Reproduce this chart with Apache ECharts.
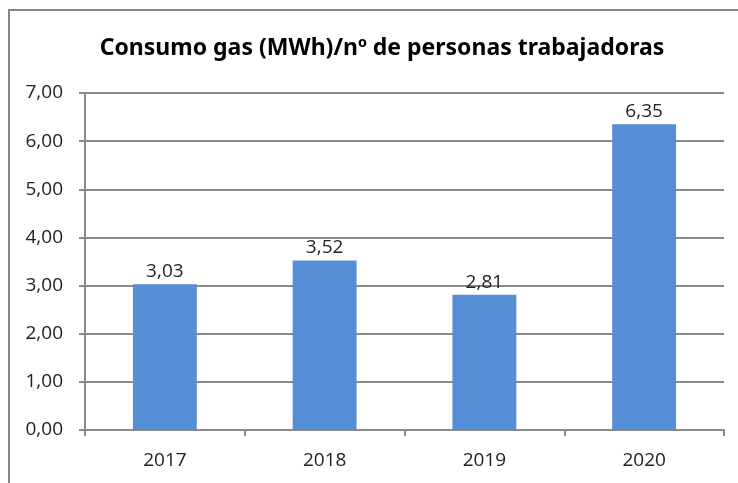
<!DOCTYPE html>
<html>
<head>
<meta charset="utf-8">
<script src="https://cdn.jsdelivr.net/npm/echarts@6/dist/echarts.min.js"></script>
<style>
html, body { margin: 0; padding: 0; background: #fff; }
#container { width: 738px; height: 483px; }
</style>
</head>
<body>
<div id="container"></div>
<script>
var years = ['2017', '2018', '2019', '2020'];
var consumo = [3.03, 3.52, 2.81, 6.35];
var yTicks = [0, 1, 2, 3, 4, 5, 6, 7];

function coma(v) {
    return v.toFixed(2).replace('.', ',');
}

var myChart = echarts.init(document.getElementById("container"));
myChart.setOption({
    animation: false,
    title: {
        text: 'Consumo gas (MWh)/nº de personas trabajadoras',
        left: 377,
        top: 32,
        textAlign: 'center',
        textStyle: {
            fontFamily: 'Noto Sans',
            fontWeight: 'bold',
            fontSize: 23,
            color: '#000'
        }
    },
    graphic: [{
            type: 'polyline',
            shape: { points: [[9, 483], [9, 10], [738, 10]] },
            style: { stroke: '#878787', lineWidth: 2, fill: null }
        }],
    grid: {
        left: 85,
        right: 14,
        top: 93,
        bottom: 53
    },
    xAxis: {
        type: 'category',
        data: years,
        axisLine: { lineStyle: { color: '#8a8a8a', width: 2 } },
        axisTick: { show: true, length: 6, lineStyle: { color: '#8a8a8a', width: 2 } },
        axisLabel: {
            margin: 21,
            fontFamily: 'Open Sans',
            fontSize: 19,
            color: '#222'
        }
    },
    yAxis: {
        type: 'value',
        min: yTicks[0],
        max: yTicks[yTicks.length - 1],
        interval: 1,
        axisLine: { show: true, lineStyle: { color: '#8a8a8a', width: 2 } },
        axisTick: { show: true, length: 6, lineStyle: { color: '#8a8a8a', width: 2 } },
        splitLine: { lineStyle: { color: '#8a8a8a', width: 2 } },
        axisLabel: {
            margin: 22,
            fontFamily: 'Open Sans',
            fontSize: 19,
            color: '#222',
            formatter: function (v) { return coma(v); }
        }
    },
    series: [{
            type: 'bar',
            data: consumo,
            barWidth: '40%',
            itemStyle: { color: '#558ed5' },
            label: {
                show: true,
                position: 'top',
                distance: 3,
                fontFamily: 'Open Sans',
                fontSize: 19,
                color: '#222',
                formatter: function (p) { return coma(p.value); }
            }
        }]
});
</script>
</body>
</html>
